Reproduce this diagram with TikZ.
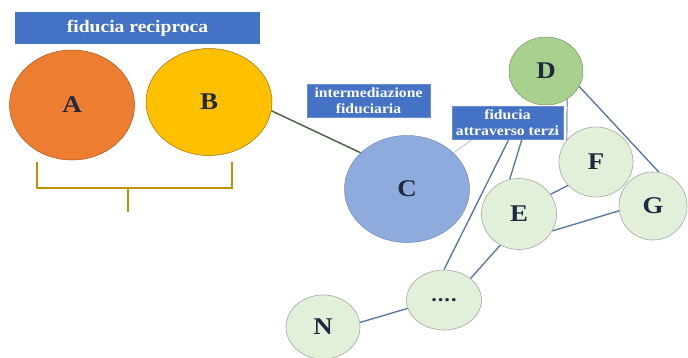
\documentclass[tikz,border=0pt]{standalone}
\usepackage{fontspec}
\setmainfont{Liberation Serif}[FakeStretch=1.12]
\usetikzlibrary{shapes.geometric,backgrounds}
\definecolor{boxblue}{HTML}{4472C4}
\definecolor{corange}{HTML}{ED7D31}
\definecolor{cyellow}{HTML}{FFC000}
\definecolor{cblue}{HTML}{8FAADC}
\definecolor{cgreen}{HTML}{A9D18E}
\definecolor{clight}{HTML}{E2EFD9}
\definecolor{bracecol}{HTML}{BF9000}
\definecolor{txt}{HTML}{1F2A40}
\definecolor{link}{HTML}{5573A0}
\tikzset{
  x=1pt,y=-1pt,
  lbox/.style={fill=boxblue,draw=boxblue!80!white,text=white,font=\bfseries\fontsize{14}{16.5}\selectfont,align=center,inner sep=0pt,minimum height=33pt},
  blob/.style={ellipse,inner sep=0pt,font=\bfseries\fontsize{24}{24}\selectfont,text=txt},
  small/.style={blob,fill=clight,draw=gray!70,line width=0.6pt},
  link/.style={draw=link,line width=1.3pt}
}
\begin{document}
\begin{tikzpicture}
\useasboundingbox (0,0) rectangle (688,357);
% title
\node[fill=boxblue,text=white,font=\bfseries\fontsize{17.5}{17.5}\selectfont,minimum width=245pt,minimum height=32pt,inner sep=0pt] (title) at (137.5,28) {fiducia reciproca};
% big ellipses
\node[blob,fill=corange,draw=corange!70!black,line width=0.5pt,minimum width=125pt,minimum height=110pt] (A) at (72,105) {A};
\node[blob,fill=cyellow,draw=cyellow!60!black,line width=0.5pt,minimum width=126pt,minimum height=107pt] (B) at (209,102) {B};
\node[blob,fill=cblue,draw=cblue!80!black,line width=0.5pt,minimum width=125pt,minimum height=107pt] (C) at (407,189) {C};
\node[blob,fill=cgreen,draw=cgreen!70!black,line width=0.5pt,minimum width=74pt,minimum height=68pt] (D) at (546,71) {D};
\node[small,minimum width=74pt,minimum height=70pt] (F) at (596,162) {F};
\node[small,minimum width=68pt,minimum height=68pt] (G) at (653,206) {G};
\node[small,minimum width=75pt,minimum height=71pt] (E) at (519,214) {E};
\node[small,minimum width=75pt,minimum height=60pt] (dots) at (444,300) {\fontsize{20}{20}\selectfont .\kern1pt.\kern1pt.\kern1pt.};
\node[small,minimum width=74pt,minimum height=64pt] (N) at (323,327) {N};
% labels
\node[lbox,minimum width=123pt] (I) at (368.5,100.5) {intermediazione\\fiduciaria};
\node[lbox,minimum width=111pt] (T) at (507.5,122.5) {fiducia\\attraverso terzi};
\coordinate (t1) at (509,139);
\coordinate (t2) at (522,139);
\coordinate (t3) at (473,139);
% brace
\coordinate (b1) at (37,162);
\coordinate (b2) at (232,162);
\coordinate (bm) at (128,188);
\coordinate (bt) at (128,212);
\draw[bracecol,line width=2.5pt] (b1) -- (b1|-bm) -- (b2|-bm) -- (b2);
\draw[bracecol,line width=2.5pt] (bm) -- (bt);
% connectors
\begin{scope}[on background layer]
\fill[white] (0,0) rectangle (688,357);
\draw[draw=black!75!green!40!gray,line width=1.5pt] (B.-8) -- (C.142);
\draw[draw=link!35!white,line width=1.2pt] (C.38) -- (t3);
\draw[link] (t1) -- (dots.north);
\draw[link] (t2) -- (E.105);
\draw[link!70!white,line width=1.2pt] (D.-53) -- (F.143);
\draw[link] (D.-25) -- (G.80);
\draw[link] (F.220) -- (E.32);
\draw[link] (G.188) -- (E.-27);
\draw[link] (E.-121) -- (dots.39);
\draw[link] (dots.193) -- (N.7);
\end{scope}
\end{tikzpicture}
\end{document}
